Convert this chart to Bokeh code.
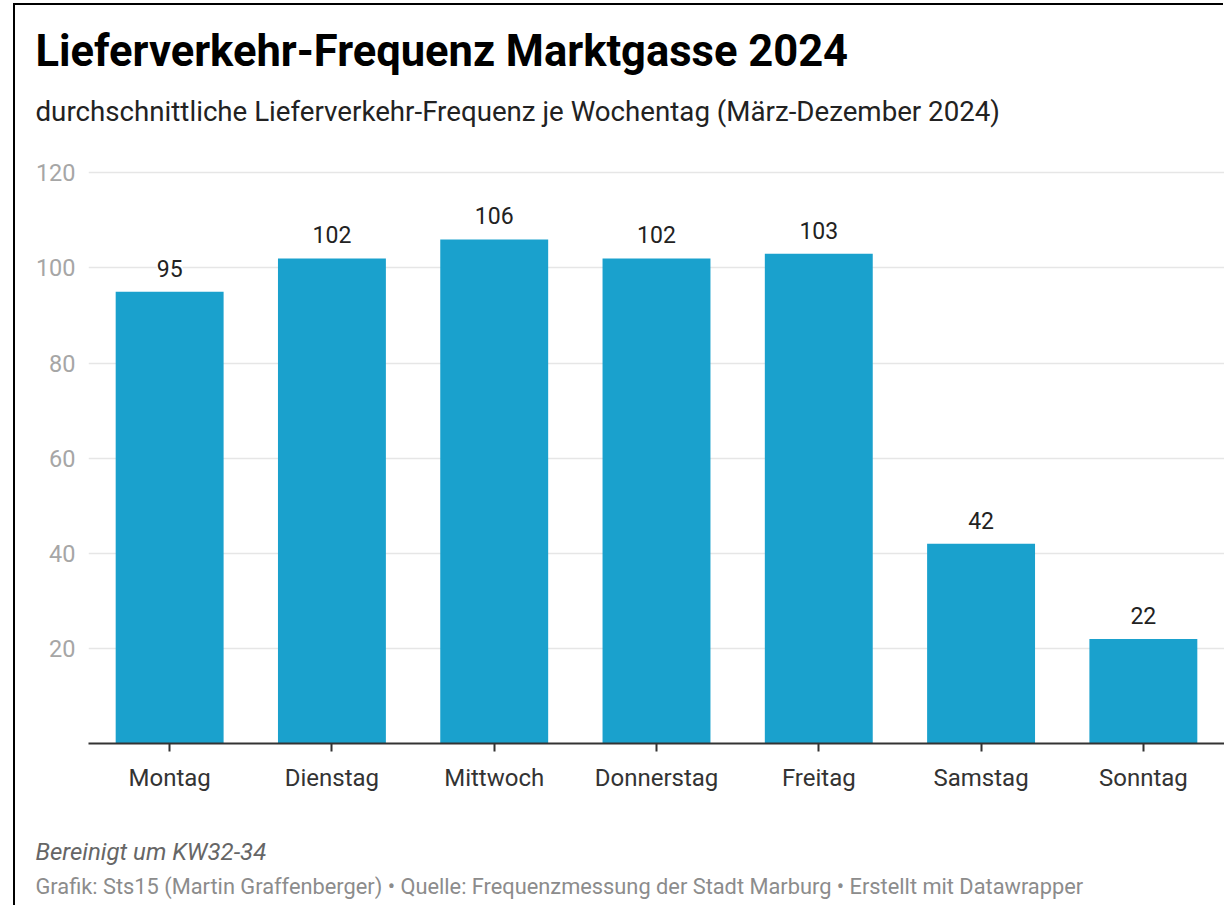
from bokeh.plotting import figure
from bokeh.models import (ColumnDataSource, FactorRange, Range1d, FixedTicker,
                          LabelSet, Title, InlineStyleSheet)
from bokeh.core.properties import value
from bokeh.embed import file_html
from bokeh.resources import INLINE

days = ["Montag", "Dienstag", "Mittwoch", "Donnerstag", "Freitag", "Samstag", "Sonntag"]
values = [95, 102, 106, 102, 103, 42, 22]
y_ticks = [20, 40, 60, 80, 100, 120]

title_text = "Lieferverkehr-Frequenz Marktgasse 2024"
subtitle_text = "durchschnittliche Lieferverkehr-Frequenz je Wochentag (März-Dezember 2024)"
note_text = "Bereinigt um KW32-34"
source_text = ("Grafik: Sts15 (Martin Graffenberger) \u2022 Quelle: Frequenzmessung der Stadt Marburg "
               "\u2022 Erstellt mit Datawrapper")

FONT = "Roboto"
BAR = "#1aa1cd"

src = ColumnDataSource(dict(day=days, value=values, label=[str(v) for v in values]))

p = figure(x_range=FactorRange(*days, range_padding=0), y_range=Range1d(0, 120.5),
           width=1224, height=912, output_backend="svg", toolbar_location=None,
           min_border_left=88, min_border_right=0, min_border_top=170, min_border_bottom=169)
p.outline_line_color = None
p.background_fill_color = "white"
p.border_fill_color = "white"

p.vbar(x="day", top="value", width=0.665, source=src, fill_color=BAR, line_color=None)

labels = LabelSet(x="day", y="value", text="label", source=src, y_offset=15,
                  text_align="center", text_baseline="bottom", text_font=value(FONT),
                  text_font_size="23px", text_color="#222222",
                  background_fill_color="white", level="overlay")
p.add_layout(labels)

# axes
p.xaxis.axis_line_color = "#333333"
p.xaxis.axis_line_width = 2
p.xaxis.major_tick_line_color = "#333333"
p.xaxis.major_tick_line_width = 2
p.xaxis.major_tick_out = 8
p.xaxis.major_tick_in = 0
p.xaxis.minor_tick_line_color = None
p.xaxis.major_label_text_font = FONT
p.xaxis.major_label_text_font_size = "24px"
p.xaxis.major_label_text_color = "#333333"
p.xaxis.major_label_standoff = 12

p.yaxis.ticker = FixedTicker(ticks=y_ticks)
p.yaxis.axis_line_color = None
p.yaxis.major_tick_line_color = None
p.yaxis.minor_tick_line_color = None
p.yaxis.major_tick_out = 0
p.yaxis.major_tick_in = 0
p.yaxis.major_label_text_font = FONT
p.yaxis.major_label_text_font_size = "23.5px"
p.yaxis.major_label_text_color = "#a6a6a6"
p.yaxis.major_label_standoff = 13

p.xgrid.grid_line_color = None
p.ygrid.ticker = FixedTicker(ticks=y_ticks)
p.ygrid.grid_line_color = "#e6e6e6"
p.ygrid.grid_line_width = 1.5

# titles (above: first added is closest to the frame)
p.add_layout(Title(text=" ", text_font=FONT, text_font_size="1px", standoff=40), "above")
p.add_layout(Title(text=subtitle_text, text_font=FONT, text_font_size="27.7px",
                   text_font_style="normal", text_color="#222222", align="left",
                   offset=-53, standoff=0), "above")
p.add_layout(Title(text=title_text, text_font=FONT, text_font_size="43.5px",
                   text_font_style="bold", text_color="#000000", align="left",
                   offset=-53, standoff=31), "above")

# notes below (first added is closest to the frame)
p.add_layout(Title(text=" ", text_font=FONT, text_font_size="1px", standoff=35), "below")
p.add_layout(Title(text=note_text, text_font=FONT, text_font_size="24px",
                   text_font_style="italic", text_color="#666666", align="left",
                   offset=-53, standoff=6), "below")
p.add_layout(Title(text=source_text, text_font=FONT, text_font_size="21.8px",
                   text_font_style="normal", text_color="#8c8c8c", align="left",
                   offset=-53, standoff=7), "below")

# black frame line of the original image (left and top edges)
p.stylesheets = [InlineStyleSheet(css=(
    ":host::after { content: ''; position: absolute; left: 13px; top: 3px; "
    "width: 1208px; height: 900px; border-left: 2.5px solid black; "
    "border-top: 2.5px solid black; pointer-events: none; z-index: 10; }"))]

open("out.html", "w").write(file_html(p, INLINE))
